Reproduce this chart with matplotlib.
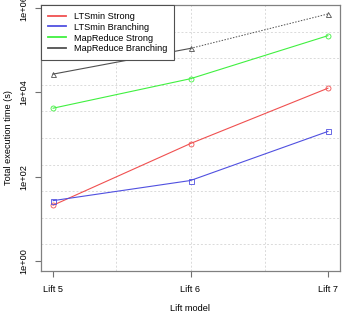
import matplotlib
matplotlib.use("Agg")
import matplotlib.pyplot as plt

# Data
models = ["Lift 5", "Lift 6", "Lift 7"]
ltsmin_strong = [21, 610, 12500]
ltsmin_branching = [27, 81, 1180]
mapreduce_strong = [4200, 21000, 220000]
mapreduce_branching = [27000, 110000, 720000]
y_ticks = [1, 1e2, 1e4, 1e6]
y_ticklabels = ["1e+00", "1e+02", "1e+04", "1e+06"]

plt.rcParams['font.family'] = ['Liberation Sans', 'DejaVu Sans']
fs = 6.6

fig = plt.figure(figsize=(3.43, 3.18), dpi=100)
ax = fig.add_axes([41 / 343, 1 - 271 / 318, 299 / 343, 266 / 318])
xs = list(range(1, len(models) + 1))

ax.set_yscale("log")
ax.set_xlim(0.912, 3.088)
ax.set_ylim(10 ** -0.237, 10 ** 6.07)

# R style grid: equal divisions of the plot region
for i in range(1, 4):
    ax.axvline(0.912 + i * (3.088 - 0.912) / 4, color="#dadada", lw=0.7,
               ls=(0, (2, 2)), zorder=0)
for i in range(1, 10):
    ax.axhline(10 ** (-0.237 + i * (6.07 + 0.237) / 10), color="#dadada",
               lw=0.7, ls=(0, (2, 2)), zorder=0)

mk = dict(markersize=3.6, markerfacecolor="none", markeredgewidth=0.6)
ax.plot(xs, ltsmin_strong, color="#f05050", lw=0.8, marker="o", **mk)
ax.plot(xs, ltsmin_branching, color="#5050e0", lw=0.8, marker="s", **mk)
ax.plot(xs, mapreduce_strong, color="#40f040", lw=0.8, marker="o", **mk)
ax.plot(xs[:2], mapreduce_branching[:2], color="#505050", lw=0.8)
ax.plot(xs[1:], mapreduce_branching[1:], color="#505050", lw=0.7,
        ls=(0, (1.5, 1.5)))
ax.plot(xs, mapreduce_branching, ls="none", color="#505050", marker="^", **mk)

ax.set_xticks(xs)
ax.set_xticklabels(models, fontsize=fs)
ax.set_yticks(y_ticks)
ax.set_yticklabels(y_ticklabels, fontsize=fs, rotation=90, va="center")
ax.minorticks_off()
ax.tick_params(axis="both", direction="out", length=4, width=0.8,
               color="#707070", pad=3)
ax.tick_params(axis="x", pad=6)
ax.tick_params(axis="y", pad=5)
for s in ax.spines.values():
    s.set_color("#808080")
    s.set_linewidth(0.9)

ax.set_xlabel("Lift model", fontsize=fs, labelpad=7)
ax.set_ylabel("Total execution time (s)", fontsize=fs, labelpad=5)

handles = [plt.Line2D([], [], color=c, lw=1.3)
           for c in ["#f05050", "#5050e0", "#40f040", "#505050"]]
leg = ax.legend(handles, ["LTSmin Strong", "LTSmin Branching",
                          "MapReduce Strong", "MapReduce Branching"],
                loc="upper left", fontsize=fs, borderaxespad=0,
                fancybox=False, framealpha=1, edgecolor="#505050",
                handlelength=1.95, handletextpad=0.85, labelspacing=0.2,
                borderpad=0.75)
leg.get_frame().set_linewidth(0.8)

fig.savefig("out.png", dpi=100)
